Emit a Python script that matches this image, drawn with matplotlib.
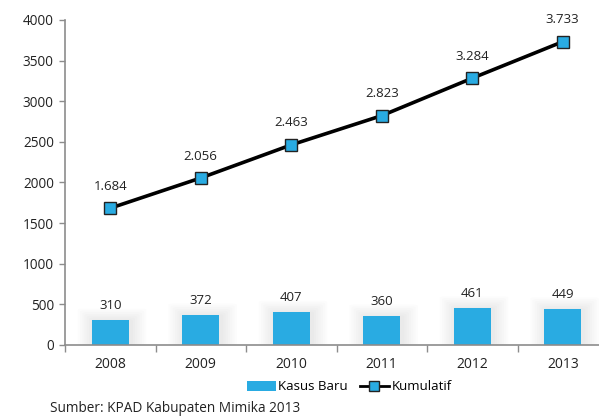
import numpy as np
import matplotlib.pyplot as plt
from matplotlib.lines import Line2D
from matplotlib.patches import Patch, FancyBboxPatch

plt.rcParams['font.family'] = ['Open Sans', 'DejaVu Sans']

years = ['2008', '2009', '2010', '2011', '2012', '2013']
kasus_baru = [310, 372, 407, 360, 461, 449]
kumulatif = [1684, 2056, 2463, 2823, 3284, 3733]
kumulatif_labels = ['1.684', '2.056', '2.463', '2.823', '3.284', '3.733']

blue = '#29abe2'
axis_gray = '#8c8c8c'

fig = plt.figure(figsize=(5.99, 4.17), dpi=100)
ax = fig.add_axes([65 / 599, 1 - 345 / 417, 543 / 599, 325 / 417])

x = np.arange(len(years))
bw = 0.41

# soft shadow around the bars
for xi, v in zip(x, kasus_baru):
    for k in range(1, 8):
        pad_x = 0.025 * k
        pad_y = 22 * k
        ax.add_patch(FancyBboxPatch((xi - bw / 2 - pad_x + 0.02, 0), bw + 2 * pad_x, v + pad_y - 15,
                                    boxstyle='round,pad=0,rounding_size=0.05',
                                    facecolor='black', edgecolor='none', alpha=0.012, zorder=1,
                                    mutation_aspect=400))

ax.bar(x, kasus_baru, width=bw, color=blue, zorder=2)
for xi, v in zip(x, kasus_baru):
    ax.text(xi, v + 95, str(v), ha='center', va='bottom', fontsize=9.5, color='#222222')

ax.plot(x, kumulatif, color='black', lw=2.6, marker='s', markersize=8,
        markerfacecolor=blue, markeredgecolor='#222222', markeredgewidth=1.0, zorder=3)
for xi, v, lab in zip(x, kumulatif, kumulatif_labels):
    ax.text(xi, v + 190, lab, ha='center', va='bottom', fontsize=9.5, color='#222222')

ax.set_xlim(-0.5, len(years) - 0.5)
ax.set_ylim(0, 4000)
ax.set_yticks(range(0, 4001, 500))
ax.tick_params(axis='y', labelsize=9.8, length=4, color=axis_gray, width=1, pad=4, labelcolor='#222222')

ax.set_xticks(np.arange(-0.5, len(years), 1.0))
ax.set_xticklabels([])
ax.set_xticks(x, minor=True)
ax.set_xticklabels(years, minor=True)
ax.tick_params(axis='x', which='major', length=5, color=axis_gray, width=1)
ax.tick_params(axis='x', which='minor', length=0, labelsize=10, pad=9, labelcolor='#222222')

for side in ['top', 'right']:
    ax.spines[side].set_visible(False)
for side in ['left', 'bottom']:
    ax.spines[side].set_color(axis_gray)
    ax.spines[side].set_linewidth(1.2)
    ax.spines[side].set_zorder(4)

handles = [Patch(facecolor=blue, edgecolor='none'),
           Line2D([], [], color='black', lw=2, marker='s', markersize=7,
                  markerfacecolor=blue, markeredgecolor='#222222')]
fig.legend(handles, ['Kasus Baru', 'Kumulatif'], loc='center', bbox_to_anchor=(349 / 599, 1 - 387 / 417),
           ncol=2, frameon=False, fontsize=9.5, handlelength=2.2, handletextpad=0.2, columnspacing=0.9)

fig.text(50 / 599, 1 - 408 / 417, 'Sumber: KPAD Kabupaten Mimika 2013', fontsize=9.8,
         color='#222222', va='center', ha='left')

fig.savefig('out.png', dpi=100)
